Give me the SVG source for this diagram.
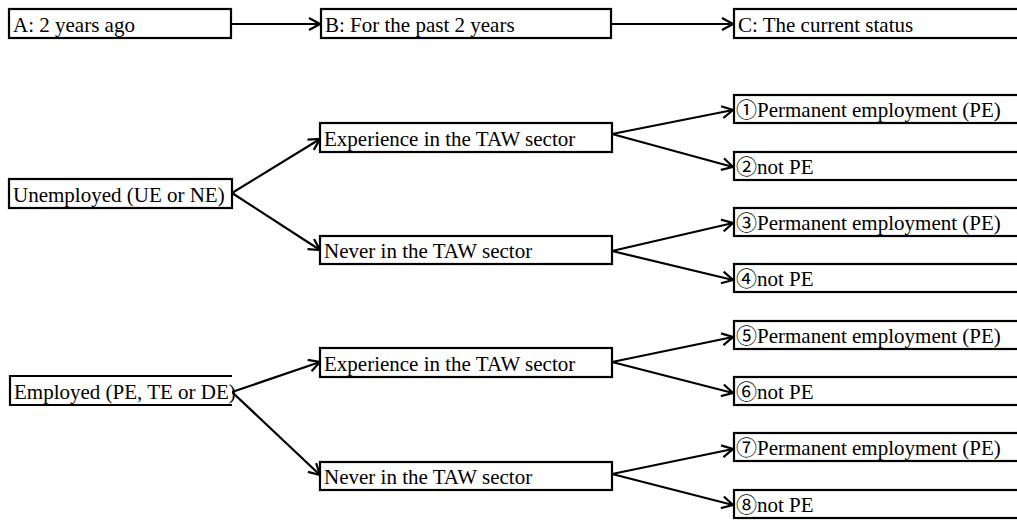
<svg xmlns="http://www.w3.org/2000/svg" width="1017" height="520" viewBox="0 0 1017 520">
<style>
.box{fill:#fff;stroke:#000;stroke-width:2.2}
.t{font-family:"Liberation Serif","Noto Sans CJK JP",serif;font-size:21px;fill:#000}
.c{stroke:#000;stroke-width:2.2;fill:none;marker-end:url(#ah)}
</style>
<defs>
<marker id="ah" markerUnits="userSpaceOnUse" markerWidth="14" markerHeight="14" viewBox="0 0 14 14" refX="12" refY="7" orient="auto">
<path d="M1,1 L12,7 L1,13" fill="none" stroke="#000" stroke-width="2.2"/>
</marker>
</defs>
<rect width="1017" height="520" fill="#fff"/>
<g id="connectors">
<line class="c" x1="232" y1="24" x2="320" y2="24"/>
<line class="c" x1="612" y1="24" x2="733" y2="24"/>
<line class="c" x1="232" y1="193" x2="320" y2="139"/>
<line class="c" x1="232" y1="193" x2="320" y2="250"/>
<line class="c" x1="612" y1="134" x2="733" y2="110"/>
<line class="c" x1="612" y1="134" x2="733" y2="167"/>
<line class="c" x1="612" y1="251" x2="733" y2="223"/>
<line class="c" x1="612" y1="251" x2="733" y2="280"/>
<line class="c" x1="232" y1="392" x2="320" y2="362"/>
<line class="c" x1="232" y1="392" x2="320" y2="475"/>
<line class="c" x1="612" y1="362" x2="733" y2="337"/>
<line class="c" x1="612" y1="362" x2="733" y2="393"/>
<line class="c" x1="612" y1="474" x2="733" y2="449"/>
<line class="c" x1="612" y1="474" x2="733" y2="505"/>
</g>
<g id="nA"><rect class="box" x="9" y="9" width="222" height="29"/><text class="t" x="13" y="32">A: 2 years ago</text></g>
<g id="nB"><rect class="box" x="321" y="9" width="290" height="29"/><text class="t" x="325" y="32">B: For the past 2 years</text></g>
<g id="nC"><rect class="box" x="734" y="9" width="295" height="29"/><text class="t" x="738" y="32">C: The current status</text></g>
<g id="nUE"><rect class="box" x="9" y="179" width="223" height="29"/><text class="t" x="13" y="202">Unemployed (UE or NE)</text></g>
<g id="nExp1"><rect class="box" x="320" y="123" width="292" height="29"/><text class="t" x="324" y="146">Experience in the TAW sector</text></g>
<g id="nNev1"><rect class="box" x="320" y="236" width="292" height="28"/><text class="t" x="324" y="258">Never in the TAW sector</text></g>
<g id="n1"><rect class="box" x="734" y="95" width="295" height="28"/><text class="t" x="736" y="117">①Permanent employment (PE)</text></g>
<g id="n2"><rect class="box" x="734" y="152" width="295" height="28"/><text class="t" x="736" y="174">②not PE</text></g>
<g id="n3"><rect class="box" x="734" y="208" width="295" height="28"/><text class="t" x="736" y="230">③Permanent employment (PE)</text></g>
<g id="n4"><rect class="box" x="734" y="264" width="295" height="28"/><text class="t" x="736" y="286">④not PE</text></g>
<g id="nEmp"><path d="M232,376 H10 V405 H232" fill="#fff" stroke="#000" stroke-width="2.2"/><text class="t" x="14" y="399">Employed (PE, TE or DE)</text></g>
<g id="nExp2"><rect class="box" x="320" y="348" width="292" height="29"/><text class="t" x="324" y="371">Experience in the TAW sector</text></g>
<g id="nNev2"><rect class="box" x="320" y="462" width="292" height="28"/><text class="t" x="324" y="484">Never in the TAW sector</text></g>
<g id="n5"><rect class="box" x="734" y="321" width="295" height="28"/><text class="t" x="736" y="343">⑤Permanent employment (PE)</text></g>
<g id="n6"><rect class="box" x="734" y="377" width="295" height="28"/><text class="t" x="736" y="399">⑥not PE</text></g>
<g id="n7"><rect class="box" x="734" y="433" width="295" height="28"/><text class="t" x="736" y="455">⑦Permanent employment (PE)</text></g>
<g id="n8"><rect class="box" x="734" y="490" width="295" height="28"/><text class="t" x="736" y="512">⑧not PE</text></g>
</svg>
